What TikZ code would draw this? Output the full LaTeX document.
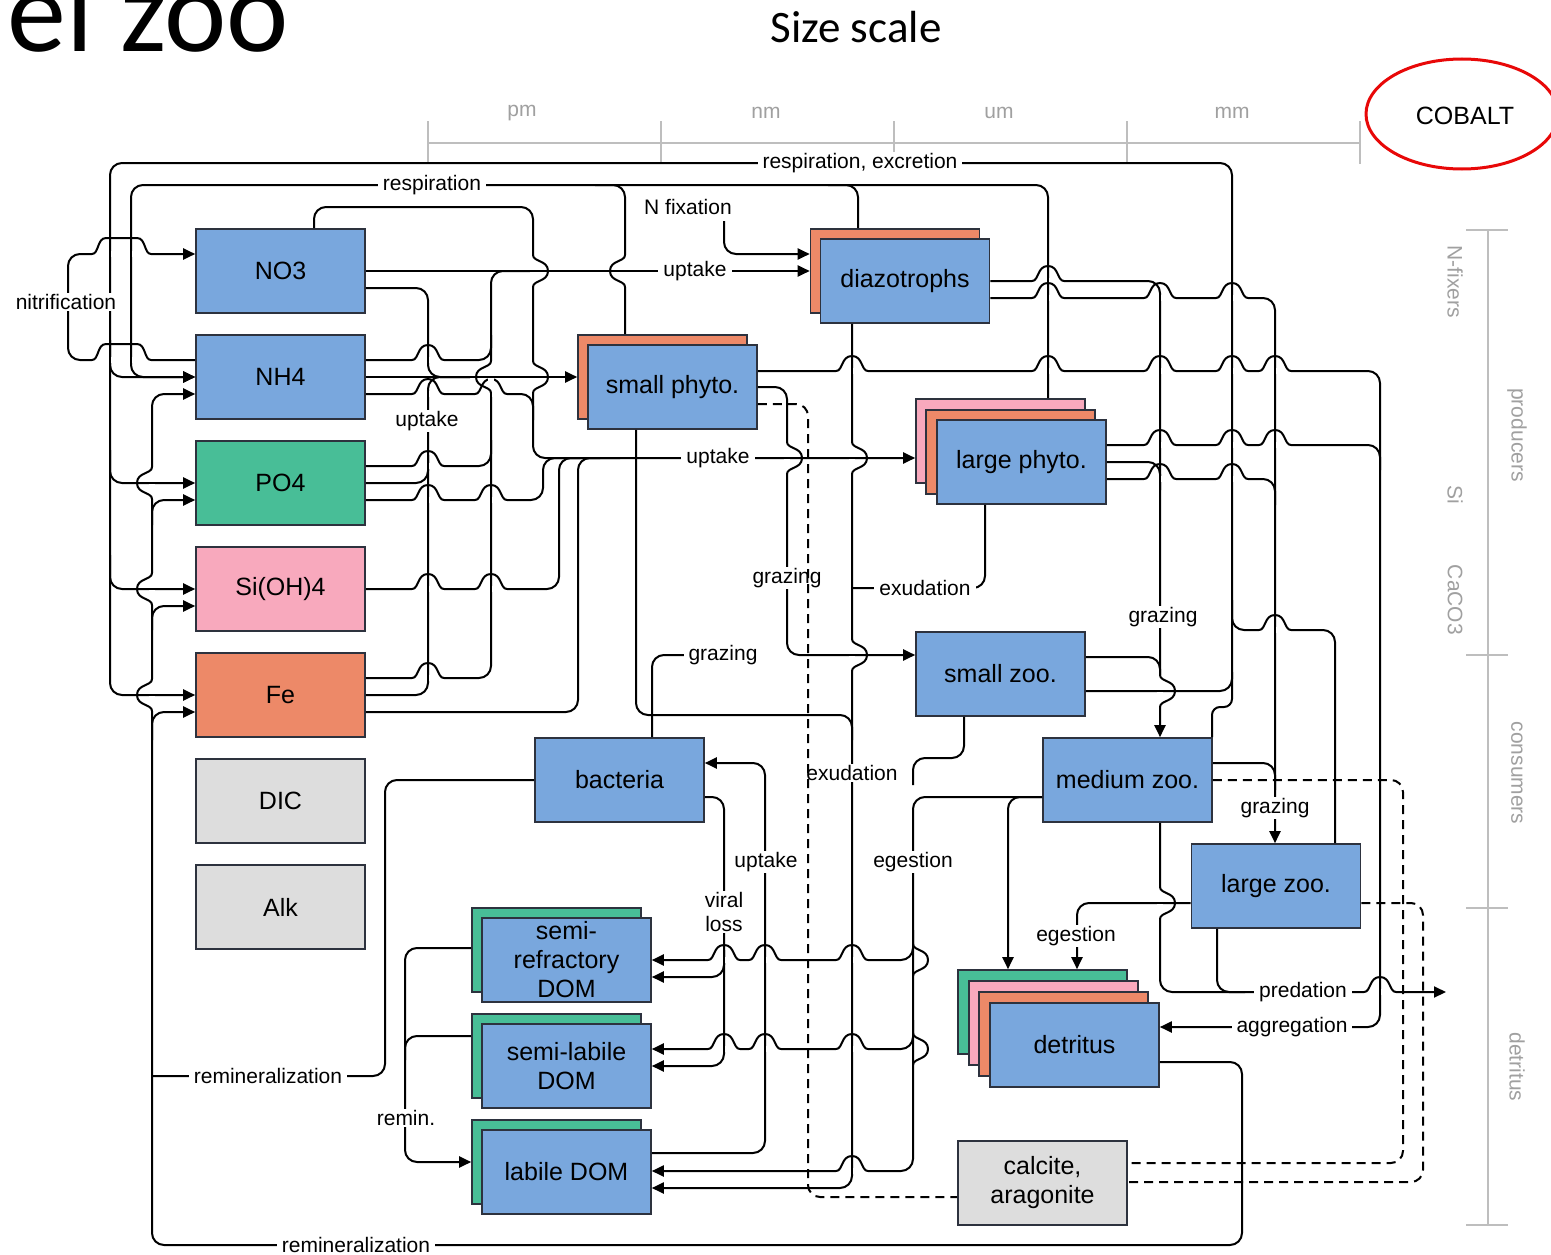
\documentclass[tikz,border=0pt]{standalone}
\usepackage{fontspec}
\setmainfont{Liberation Sans}
\newfontfamily\titlefont{Carlito}
\usetikzlibrary{calc,arrows.meta}
\definecolor{cblue}{RGB}{121,167,221}
\definecolor{cgreen}{RGB}{72,190,151}
\definecolor{cpink}{RGB}{248,169,189}
\definecolor{corange}{RGB}{237,137,104}
\definecolor{cgray}{RGB}{221,221,221}
\definecolor{cedge}{RGB}{45,50,62}
\definecolor{sgray}{RGB}{190,190,190}
\definecolor{tgray}{RGB}{160,160,160}
\definecolor{cred}{RGB}{232,8,8}
\tikzset{
  box/.style={draw=cedge, line width=1.6pt, minimum width=169pt, minimum height=84pt, inner sep=0pt, align=center, font=\fontsize{25}{29}\selectfont},
  btxt/.style={align=center, inner sep=0pt, font=\fontsize{25}{29}\selectfont},
  ln/.style={line width=2pt, rounded corners=12pt},
  hp/.style={line width=2pt},
  dsh/.style={line width=2pt, rounded corners=12pt, dash pattern=on 9pt off 6pt},
  arr/.style={-{Triangle[length=12pt,width=11pt]}},
  lab/.style={fill=white, inner xsep=5pt, inner ysep=1pt, font=\fontsize{21}{24}\selectfont},
  scl/.style={line width=2pt, draw=sgray},
  slab/.style={font=\fontsize{21}{24}\selectfont, text=tgray},
}
% horizontal line at y=#2 hops up over vertical at x=#1
\newcommand{\hopH}[2]{%
  \fill[white] ({#1-16},{#2-3}) rectangle ({#1+16},{#2+3});
  \draw[hp] (#1,{#2-4}) -- (#1,{#2+4});
  \draw[hp] ({#1-16},#2) .. controls ({#1-9},#2) and ({#1-11},{#2-15}) .. (#1,{#2-15}) .. controls ({#1+11},{#2-15}) and ({#1+9},#2) .. ({#1+16},#2);}
% vertical line at x=#1 bulges right over horizontal at y=#2
\newcommand{\hopV}[2]{%
  \fill[white] ({#1-3},{#2-16}) rectangle ({#1+3},{#2+16});
  \draw[hp] ({#1-4},#2) -- ({#1+4},#2);
  \draw[hp] (#1,{#2-16}) .. controls (#1,{#2-9}) and ({#1+15},{#2-11}) .. ({#1+15},#2) .. controls ({#1+15},{#2+11}) and (#1,{#2+9}) .. (#1,{#2+16});}
% vertical line at x=#1 bulges left over horizontal at y=#2
\newcommand{\hopVL}[2]{%
  \fill[white] ({#1-3},{#2-16}) rectangle ({#1+3},{#2+16});
  \draw[hp] ({#1-4},#2) -- ({#1+4},#2);
  \draw[hp] (#1,{#2-16}) .. controls (#1,{#2-9}) and ({#1-15},{#2-11}) .. ({#1-15},#2) .. controls ({#1-15},{#2+11}) and (#1,{#2+9}) .. (#1,{#2+16});}
% bulge only
\newcommand{\hopVB}[2]{%
  \draw[hp] (#1,{#2-16}) .. controls (#1,{#2-9}) and ({#1+15},{#2-11}) .. ({#1+15},#2) .. controls ({#1+15},{#2+11}) and (#1,{#2+9}) .. (#1,{#2+16});}
% wide hop over x=110 and x=131
\newcommand{\hopW}[1]{%
  \fill[white] (92,{#1-3}) rectangle (151,{#1+3});
  \draw[hp] (110,{#1-4}) -- (110,{#1+4});
  \draw[hp] (131,{#1-4}) -- (131,{#1+4});
  \draw[hp] (92,#1) .. controls (99,#1) and (97,{#1-16}) .. (106,{#1-16}) -- (137,{#1-16}) .. controls (146,{#1-16}) and (144,#1) .. (151,#1);}

\begin{document}
\begin{tikzpicture}[x=1pt,y=-1pt]
\useasboundingbox (0,0) rectangle (1551,1255);
\fill[white] (0,0) rectangle (1551,1255);

% ---------- titles ----------
\node[anchor=base east, inner sep=0pt, font=\titlefont\fontsize{118}{118}\selectfont] (title) at (289,52) {Model zoo};
\node[anchor=base, inner sep=0pt, font=\titlefont\fontsize{45}{45}\selectfont] (sizescale) at (856,43) {Size scale};
\node[inner sep=0pt, font=\fontsize{25}{28}\selectfont] (cobalt) at (1465,116) {COBALT};
\draw[cred, line width=3pt] (1462,114) ellipse [x radius=96pt, y radius=55pt];

% ---------- size scale ----------
\draw[scl] (428,143) -- (1360,143);
\foreach \xx in {428,661,894,1127,1360} \draw[scl] (\xx,121) -- (\xx,164);
\node[slab] (spm) at (522,113) {pm};
\node[slab] (snm) at (766,113) {nm};
\node[slab] (sum) at (999,113) {um};
\node[slab] (smm) at (1232,113) {mm};
\draw[scl] (1488,230) -- (1488,1225);
\foreach \yy in {230,655,908,1225} \draw[scl] (1466,\yy) -- (1508,\yy);
\node[slab, rotate=-90] (snf) at (1455,282) {N-fixers};
\node[slab, rotate=-90] (ssi) at (1455,495) {Si};
\node[slab, rotate=-90] (sca) at (1455,600) {CaCO3};
\node[slab, rotate=-90] (spr) at (1517,435) {producers};
\node[slab, rotate=-90] (sco) at (1517,773) {consumers};
\node[slab, rotate=-90] (sde) at (1517,1067) {detritus};

% ---------- boxes ----------
\node[box, fill=cblue] (NO3) at (280.5,271) {NO3};
\node[box, fill=cblue] (NH4) at (280.5,377) {NH4};
\node[box, fill=cgreen] (PO4) at (280.5,483) {PO4};
\node[box, fill=cpink] (Si) at (280.5,589) {Si(OH)4};
\node[box, fill=corange] (Fe) at (280.5,695) {Fe};
\node[box, fill=cgray] (DIC) at (280.5,801) {DIC};
\node[box, fill=cgray] (Alk) at (280.5,907) {Alk};

\node[box, fill=corange] (SPb) at (662.5,377) {};
\node[box, fill=cblue] (SP) at (672.5,387) {small phyto.};
\node[box, fill=corange] (DZb) at (895,271) {};
\node[box, fill=cblue] (DZ) at (905,281) {diazotrophs};
\node[box, fill=cpink] (LPp) at (1000.5,441) {};
\node[box, fill=corange] (LPo) at (1010.5,452) {};
\node[box, fill=cblue] (LP) at (1021.5,462) {large phyto.};
\node[box, fill=cblue] (SZ) at (1000.5,674) {small zoo.};
\node[box, fill=cblue] (MZ) at (1127.5,780) {medium zoo.};
\node[box, fill=cblue] (LZ) at (1276,886) {large zoo.};
\node[box, fill=cblue] (BAC) at (619.5,780) {bacteria};

\node[box, fill=cgreen] (SRb) at (556.5,950) {};
\node[box, fill=cblue] (SR) at (566.5,960) {};
\node[btxt] (SRt) at (566.5,960) {semi-\\refractory\\DOM};
\node[box, fill=cgreen] (SLb) at (556.5,1056) {};
\node[box, fill=cblue] (SL) at (566.5,1066) {};
\node[btxt] (SLt) at (566.5,1066) {semi-labile\\DOM};
\node[box, fill=cgreen] (LDb) at (556.5,1162) {};
\node[box, fill=cblue] (LD) at (566.5,1172) {labile DOM};

\node[box, fill=cgreen] (DTg) at (1042.5,1012) {};
\node[box, fill=cpink] (DTp) at (1053.5,1023) {};
\node[box, fill=corange] (DTo) at (1063.5,1034) {};
\node[box, fill=cblue] (DT) at (1074.5,1045) {detritus};
\node[box, fill=cgray] (CAL) at (1042.5,1183) {};
\node[btxt] (CALt) at (1042.5,1183) {calcite,\\aragonite};

% ---------- connectors ----------
% nitrification
\draw[ln,arr] ($(NH4.west)+(0,-17)$) -- (68,360) -- (68,254) -- ($(NO3.west)+(0,-17)$);

% respiration, excretion
\draw[ln,arr] ($(SZ.east)+(0,17)$) -- (1232,691) -- (1232,163) -- (110,163) -- (110,695) -- (Fe.west);
\draw[ln,arr] (110,340) -- (110,377) -- (NH4.west);
\draw[ln,arr] (110,450) -- (110,483) -- (PO4.west);
\draw[ln,arr] (110,555) -- (110,589) -- (Si.west);
\draw[ln, rounded corners=8pt] ($(MZ.north)+(84.5,0)$) -- (1212,707) -- (1232,707) -- (1232,672);
\draw[ln] ($(LZ.north)+(59,0)$) -- (1335,630) -- (1232,630) -- (1232,600);

% respiration
\draw[ln,arr] ($(LPp.north)+(47.5,0)$) -- (1048,185) -- (131,185) -- (131,377) -- (NH4.west);
\draw[ln] ($(SPb.north)+(-37.5,0)$) -- (625,185) -- (595,185);
\draw[ln] ($(DZb.north)+(-37,0)$) -- (858,185) -- (828,185);

% remineralization
\draw[ln,arr] ($(DT.east)+(0,17)$) -- (1242,1062) -- (1242,1245) -- (152,1245) -- (152,394) -- ($(NH4.west)+(0,17)$);
\draw[ln] (BAC.west) -- (385,780) -- (385,1076) -- (152,1076);

% uptake -> diazotrophs
\draw[ln,arr] (NO3.east) -- (DZb.west);
\draw[ln] ($(Fe.east)+(0,-17)$) -- (491,678) -- (491,271) -- (530,271);
\draw[ln] ($(NH4.east)+(0,-17)$) -- (491,360) -- (491,335);
\draw[ln] ($(PO4.east)+(0,-17)$) -- (491,466) -- (491,440);
\draw[ln,arr] (724,221) -- (724,254) -- ($(DZb.west)+(0,-17)$);

% uptake -> small phyto
\draw[ln,arr] (NH4.east) -- (SPb.west);
\draw[ln] ($(NO3.east)+(0,17)$) -- (428,288) -- (428,377) -- (470,377);
\draw[ln] (Fe.east) -- (428,695) -- (428,377) -- (470,377);
\draw[ln] (PO4.east) -- (428,483) -- (428,455);

% uptake -> large phyto
\draw[ln,arr] ($(NO3.north)+(33.5,0)$) -- (314,207) -- (533,207) -- (533,458) -- ($(LPp.west)+(0,17)$);
\draw[ln] ($(NH4.east)+(0,17)$) -- (533,394) -- (533,420);
\draw[ln] ($(PO4.east)+(0,17)$) -- (543,500) -- (543,458) -- (580,458);
\draw[ln] (Si.east) -- (559,589) -- (559,458) -- (600,458);
\draw[ln] ($(Fe.east)+(0,17)$) -- (578,712) -- (578,458) -- (620,458);

% aggregation
\draw[ln,arr] ($(SP.east)+(0,-16)$) -- (1380,371) -- (1380,1027) -- ($(DT.east)+(0,-18)$);
\draw[ln] ($(LP.east)+(0,-17)$) -- (1380,445) -- (1380,470);

% grazing -> medium zoo
\draw[ln,arr] (DZ.east) -- (1160,281) -- ($(MZ.north)+(32.5,0)$);
\draw[ln] (LP.east) -- (1160,462) -- (1160,490);
\draw[ln] ($(SZ.east)+(0,-17)$) -- (1160,657) -- (1160,682);

% grazing -> large zoo
\draw[ln,arr] ($(DZ.east)+(0,17)$) -- (1275,298) -- ($(LZ.north)+(-1,0)$);
\draw[ln] ($(LP.east)+(0,17)$) -- (1275,479) -- (1275,505);
\draw[ln] ($(MZ.east)+(0,-17)$) -- (1275,763) -- (1275,790);

% grazing -> small zoo
\draw[ln,arr] (SP.east) -- (787,387) -- (787,655) -- ($(SZ.west)+(0,-19)$);
\draw[ln] ($(BAC.north)+(32.5,0)$) -- (652,655) -- (690,655);

% exudation
\draw[ln,arr] ($(DZ.south)+(-53,0)$) -- (852,1188) -- ($(LD.east)+(0,16)$);
\draw[ln] ($(SP.south)+(-36.5,0)$) -- (636,715) -- (852,715) -- (852,740);
\draw[ln] ($(LP.south)+(-36.5,0)$) -- (985,588) -- (852,588);

% egestion
\draw[ln,arr] ($(MZ.west)+(0,17)$) -- (913,797) -- (913,1171) -- ($(LD.east)+(0,-1)$);
\draw[ln,arr] (913,930) -- (913,960) -- (SR.east);
\draw[ln,arr] (913,1020) -- (913,1049) -- ($(SL.east)+(0,-17)$);
\draw[ln] ($(SZ.south)+(-36.5,0)$) -- (964,758) -- (913,758) -- (913,785);

% viral loss
\draw[ln,arr] ($(BAC.east)+(0,17)$) -- (724,797) -- (724,977) -- ($(SR.east)+(0,17)$);
\draw[ln,arr] (724,950) -- (724,1066) -- (SL.east);

% uptake by bacteria
\draw[ln,arr] ($(LD.east)+(0,-19)$) -- (765,1153) -- (765,763) -- ($(BAC.east)+(0,-17)$);

% remin.
\draw[ln,arr] ($(SRb.west)+(0,-2)$) -- (405,948) -- (405,1162) -- (LDb.west);
\draw[ln] ($(SLb.west)+(0,-20)$) -- (405,1036) -- (405,1060);

% zooplankton -> detritus
\draw[ln,arr] ($(MZ.west)+(0,17)$) -- (1008,797) -- ($(DTg.north)+(-34.5,0)$);
\draw[ln,arr] ($(LZ.west)+(0,17)$) -- (1077,903) -- ($(DTg.north)+(34.5,0)$);

% predation
\coordinate (predout) at (1446,992);
\draw[ln,arr] ($(MZ.south)+(32.5,0)$) -- (1160,992) -- (predout);
\draw[ln] ($(LZ.south)+(-59,0)$) -- (1217,992) -- (1245,992);

% dashed: zooplankton -> calcite
\draw[dsh] (MZ.east) -- (1403,780) -- (1403,1163) -- ($(CAL.east)+(0,-20)$);
\draw[dsh] ($(LZ.east)+(0,17)$) -- (1423,903) -- (1423,1182) -- ($(CAL.east)+(0,-1)$);

% ---------- line jumps ----------
\hopW{360}
\hopW{254}
\hopH{428}{360} \hopH{428}{394} \hopH{491}{394}
\hopH{428}{466} \hopH{428}{500} \hopH{491}{500}
\hopH{428}{589} \hopH{491}{589} \hopH{428}{678}
\hopH{1048}{281} \hopH{1048}{298} \hopH{1160}{298} \hopH{1232}{298}
\hopH{852}{371} \hopH{1048}{371} \hopH{1160}{371} \hopH{1232}{371} \hopH{1275}{371}
\hopH{1160}{445} \hopH{1232}{445} \hopH{1275}{445}
\hopH{1160}{479} \hopH{1232}{479}
\hopH{1275}{630} \hopH{1380}{992}
\hopH{724}{960} \hopH{765}{960} \hopH{852}{960}
\hopH{724}{1049} \hopH{765}{1049} \hopH{852}{1049}
\hopH{852}{1171}
\hopV{533}{271} \hopV{533}{377}
\hopV{787}{458} \hopV{852}{458} \hopV{852}{655}
\hopV{1160}{691} \hopV{1160}{903}
\hopVL{625}{271} \hopVL{491}{377}
\hopVL{152}{483} \hopVL{152}{589} \hopVL{152}{695}
\hopVB{913}{960} \hopVB{913}{1049}

% remineralization branches
\draw[ln,arr] (152,740) -- (152,712) -- ($(Fe.west)+(0,17)$);
\draw[ln,arr] (152,630) -- (152,606) -- ($(Si.west)+(0,17)$);
\draw[ln,arr] (152,525) -- (152,500) -- ($(PO4.west)+(0,17)$);

% ---------- labels ----------
\node[lab] (l1) at (860,163) {respiration, excretion};
\node[lab] (l2) at (432,185) {respiration};
\node[lab] (nfix) at (688,207) {N fixation};
\node[lab] (l4) at (695,271) {uptake};
\node[lab] (l5) at (66,302) {nitrification};
\node[lab] (l6) at (427,421) {uptake};
\node[lab] (l7) at (718,458) {uptake};
\node[lab] (l8) at (787,578) {grazing};
\node[lab] (l9) at (925,588) {exudation};
\node[lab] (l10) at (1163,617) {grazing};
\node[lab] (l11) at (723,655) {grazing};
\node[lab] (l12) at (852,773) {exudation};
\node[lab] (l13) at (1275,808) {grazing};
\node[lab] (l14) at (766,862) {uptake};
\node[lab] (l15) at (913,862) {egestion};
\node[lab, align=center] (l16) at (724,912) {viral\\loss};
\node[lab] (l17) at (1076,936) {egestion};
\node[lab] (l18) at (1303,992) {predation};
\node[lab] (l19) at (1292,1027) {aggregation};
\node[lab] (l20) at (268,1076) {remineralization};
\node[lab] (l21) at (406,1118) {remin.};
\node[lab] (l22) at (356,1245) {remineralization};

% dashed: small phyto -> calcite (drawn over labels)
\draw[dsh] ($(SP.east)+(0,17)$) -- (808,404) -- (808,1197) -- ($(CAL.west)+(0,14)$);
\end{tikzpicture}
\end{document}
